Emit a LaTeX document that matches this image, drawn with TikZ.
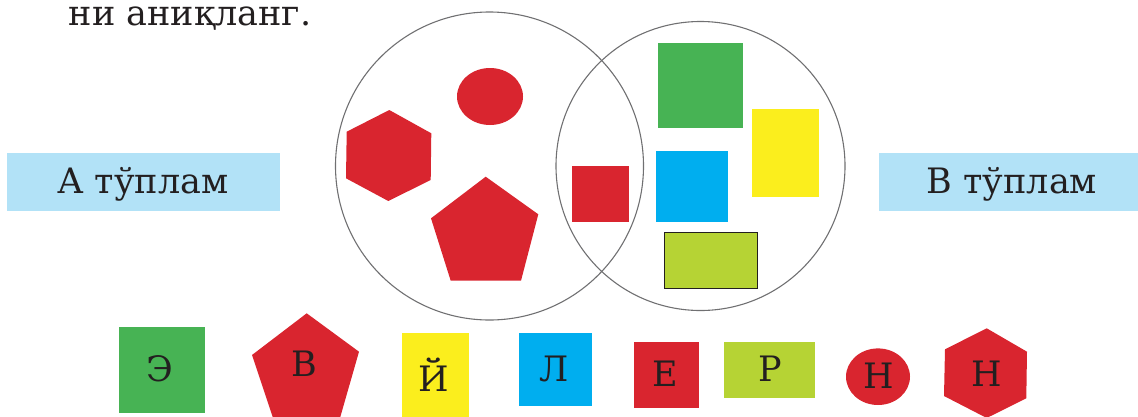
\documentclass[tikz,border=0pt]{standalone}
\usepackage{fontspec}
\setmainfont{DejaVu Serif}
\definecolor{cred}{HTML}{D9252F}
\definecolor{cgreen}{HTML}{47B354}
\definecolor{cyellow}{HTML}{FBEE1D}
\definecolor{cblue}{HTML}{00AEEF}
\definecolor{clime}{HTML}{B6D334}
\definecolor{clabel}{HTML}{B2E2F7}
\definecolor{cring}{HTML}{707072}
\definecolor{ctext}{HTML}{231F20}
\tikzset{
  txt/.style={text=ctext,font=\fontsize{35}{40}\selectfont,inner sep=0pt,anchor=base},
  ring/.style={draw=cring,line width=1.1pt},
}
\begin{document}
\begin{tikzpicture}[x=1pt,y=-1pt]
\useasboundingbox (0,0) rectangle (1138,416);
% top text
\node[txt] (top) at (190,25) {ни аниқланг.};
% labels
\fill[clabel] (7,153) rectangle (280,211);
\node[txt] (la) at (143,193) {А тўплам};
\fill[clabel] (879,153) rectangle (1138,211);
\node[txt] (lb) at (1012,193) {В тўплам};
% shapes in A
\fill[cred] (490,96.5) ellipse [x radius=33, y radius=28.5];
\fill[cred] (389.3,110) -- (431.3,133.3) -- (430.7,180) -- (388.3,201) -- (346,178.3) -- (346.7,131.7) -- cycle;
\fill[cred] (485.7,176.7) -- (538.3,214.3) -- (521,280.7) -- (450.7,280.7) -- (431,218.3) -- cycle;
% intersection
\fill[cred] (571.7,166) rectangle (628.7,222.3);
% shapes in B
\fill[cgreen] (658,43) rectangle (743.3,128.3);
\fill[cyellow] (751.7,109.3) rectangle (819,196.7);
\fill[cblue] (655.7,150.7) rectangle (728,222.3);
\filldraw[fill=clime,draw=ctext,line width=1pt] (664.3,232.7) rectangle (757,288.3);
% circles
\draw[ring] (489.5,166) circle [radius=154];
\draw[ring] (700.5,166) circle [radius=144.5];
% bottom row
\fill[cgreen] (119,327.3) rectangle (204.7,412.7);
\node[txt] (l1) at (160,381.7) {Э};
\fill[cred] (306.7,313.3) -- (359,351.7) -- (340,418) -- (273,418) -- (252,355) -- cycle;
\node[txt] (l2) at (304,376.7) {В};
\fill[cyellow] (401.7,333.3) rectangle (469.3,418);
\node[txt] (l3) at (434,391.7) {Й};
\fill[cblue] (519,333.3) rectangle (591.7,405.7);
\node[txt] (l4) at (554,381.7) {Л};
\fill[cred] (634,341.7) rectangle (699,408);
\node[txt] (l5) at (665,386.7) {Е};
\fill[clime] (724.3,342) rectangle (814.7,398);
\node[txt] (l6) at (770,381.7) {Р};
\fill[cred] (878,376.7) ellipse [x radius=32, y radius=28.3];
\node[txt] (l7) at (879,388.3) {Н};
\fill[cred] (986.7,328.3) -- (1027,351.7) -- (1026.3,398.3) -- (986.7,418) -- (944,396) -- (945,349.3) -- cycle;
\node[txt] (l8) at (987,386.7) {Н};
\end{tikzpicture}
\end{document}
